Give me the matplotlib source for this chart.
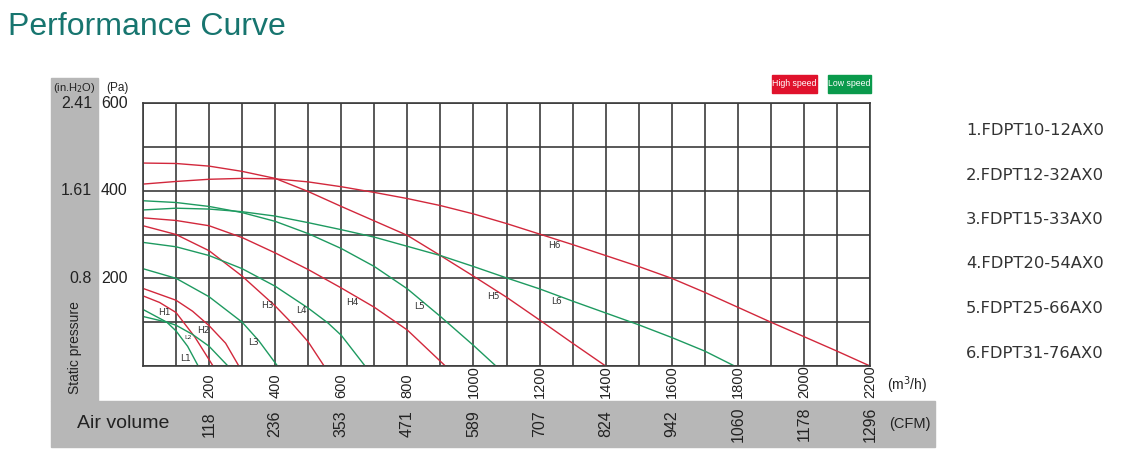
import matplotlib.pyplot as plt
from matplotlib.patches import Rectangle

W, H = 1133, 462

# axis labels
flow_ticks = [200, 400, 600, 800, 1000, 1200, 1400, 1600, 1800, 2000, 2200]
cfm_labels = ["118", "236", "353", "471", "589", "707", "824", "942", "1060", "1178", "1296"]
pa_ticks = [200, 400, 600]
inh2o_labels = ["0.8", "1.61", "2.41"]
models = ["1.FDPT10-12AX0", "2.FDPT12-32AX0", "3.FDPT15-33AX0",
          "4.FDPT20-54AX0", "5.FDPT25-66AX0", "6.FDPT31-76AX0"]

# curves, air volume (m3/h) vs static pressure (Pa)
h1_flow = [0, 50, 100, 157, 212]
h1_pa = [160, 145, 122, 66, 0]
l1_flow = [0, 72, 100, 135, 167]
l1_pa = [129, 100, 80, 45, 0]
h2_flow = [0, 100, 150, 200, 250, 290]
h2_pa = [177, 150, 125, 92, 52, 0]
l2_flow = [0, 72, 100, 150, 200, 257]
l2_pa = [113, 100, 93, 72, 45, 0]
h3_flow = [0, 100, 200, 300, 400, 450, 500, 548]
h3_pa = [320, 300, 263, 205, 137, 98, 55, 0]
l3_flow = [0, 100, 200, 300, 350, 407]
l3_pa = [222, 200, 158, 100, 58, 0]
h4_flow = [0, 100, 200, 300, 400, 500, 600, 700, 800, 915]
h4_pa = [338, 332, 320, 293, 258, 220, 178, 134, 82, 0]
l4_flow = [0, 100, 200, 300, 400, 500, 560, 600, 672]
l4_pa = [282, 272, 252, 222, 182, 132, 98, 70, 0]
h5_flow = [0, 100, 200, 300, 400, 500, 600, 700, 800, 900, 1000, 1100, 1200, 1300, 1400]
h5_pa = [463, 462, 456, 444, 428, 398, 364, 331, 298, 252, 205, 157, 105, 52, 0]
l5_flow = [0, 100, 200, 300, 400, 500, 600, 700, 800, 900, 1000, 1068]
l5_pa = [377, 373, 364, 350, 330, 302, 268, 227, 176, 113, 47, 0]
h6_flow = [0, 100, 200, 300, 400, 500, 600, 700, 800, 900, 1000, 1100, 1200, 1300, 1400,
           1500, 1600, 1700, 1800, 1900, 2000, 2100, 2200]
h6_pa = [415, 421, 426, 428, 427, 420, 409, 396, 382, 366, 347, 325, 301, 277, 252,
         227, 200, 168, 134, 100, 67, 34, 0]
l6_flow = [0, 100, 200, 300, 400, 500, 600, 700, 800, 900, 1000, 1100, 1200, 1300, 1400,
           1500, 1600, 1700, 1790]
l6_pa = [356, 360, 358, 352, 342, 327, 311, 294, 273, 252, 227, 201, 176, 148, 121,
         94, 65, 34, 0]

RED = "#d2283c"
GREEN = "#1e9a60"
GRID = "#3c3c3c"
TXT = "#222222"

fig = plt.figure(figsize=(W / 100, H / 100), dpi=100)

def fx(x):
    return x / W

def fy(y):
    return 1 - y / H

# grey panels
fig.patches.append(Rectangle((fx(51), fy(447)), 884 / W, 46 / H, transform=fig.transFigure,
                             color="#b7b7b7", zorder=-1))
fig.patches.append(Rectangle((fx(51), fy(401)), 47 / W, 323 / H, transform=fig.transFigure,
                             color="#b7b7b7", zorder=-1))

ax = fig.add_axes([fx(143), fy(366), 727 / W, 263 / H])
ax.set_xlim(0, 2200)
ax.set_ylim(0, 600)
ax.set_xticks(range(0, 2201, 100))
ax.set_yticks(range(0, 601, 100))
ax.grid(True, color=GRID, lw=1.2)
ax.set_axisbelow(True)
ax.tick_params(length=0, labelbottom=False, labelleft=False)
for s in ax.spines.values():
    s.set_color(GRID)
    s.set_linewidth(1.2)

for fl, pa in [(h1_flow, h1_pa), (h2_flow, h2_pa), (h3_flow, h3_pa),
               (h4_flow, h4_pa), (h5_flow, h5_pa), (h6_flow, h6_pa)]:
    ax.plot(fl, pa, color=RED, lw=1.0)
for fl, pa in [(l1_flow, l1_pa), (l2_flow, l2_pa), (l3_flow, l3_pa),
               (l4_flow, l4_pa), (l5_flow, l5_pa), (l6_flow, l6_pa)]:
    ax.plot(fl, pa, color=GREEN, lw=1.0)

# curve tags
tags = {"H1": (64, 121), "H2": (182, 80), "L1": (130, 18), "H3": (375, 137),
        "L3": (333, 53), "L4": (478, 126), "H4": (632, 146), "L5": (838, 135),
        "H5": (1059, 158), "L6": (1250, 148), "H6": (1244, 276)}
for t, (x, y) in tags.items():
    ax.text(x, y, t, fontsize=6.5, color="#333333", ha="center", va="center")
ax.text(136, 66, "L2", fontsize=4.5, color="#333333", ha="center", va="center")

# tick labels
xt = ax.get_xaxis_transform()
yt = ax.get_yaxis_transform()
for f, c in zip(flow_ticks, cfm_labels):
    ax.text(f, -0.122, str(f), transform=xt, rotation=90, ha="center", va="bottom",
            fontsize=10.5, family="Liberation Sans", color=TXT)
    ax.text(f, -0.22, c, transform=xt, rotation=90, ha="center", va="center",
            fontsize=11.5, family="Liberation Sans", color=TXT)
for p, w in zip(pa_ticks, inh2o_labels):
    ax.text(-0.058, p, str(p), transform=yt, ha="left", va="center",
            fontsize=11.5, family="Liberation Sans", color=TXT)
    ax.text(-0.070, p, w, transform=yt, ha="right", va="center",
            fontsize=11.5, family="Liberation Sans", color=TXT)

fig.text(fx(53), fy(88), "(in.H$_2$O)", fontsize=8, va="center", color=TXT,
         family="Liberation Sans")
fig.text(fx(106), fy(88), "(Pa)", fontsize=8.5, va="center", color=TXT,
         family="Liberation Sans")
fig.text(fx(887), fy(385), "(m$^3$/h)", fontsize=10, va="center", color=TXT,
         family="Liberation Sans")
fig.text(fx(889), fy(424), "(CFM)", fontsize=10.5, va="center", color=TXT,
         family="Liberation Sans")
fig.text(fx(75), fy(348), "Static pressure", rotation=90, ha="center", va="center",
         fontsize=10, color=TXT, family="Liberation Sans")
fig.text(fx(77), fy(424), "Air volume", ha="left", va="center", fontsize=14,
         color=TXT, family="Liberation Sans")

# title
fig.text(fx(8), fy(27), "Performance Curve", ha="left", va="center", fontsize=23,
         color="#17756f", family="Liberation Sans")

# speed badges
fig.patches.append(Rectangle((fx(772), fy(93)), 45 / W, 18 / H, transform=fig.transFigure,
                             color="#e0122c"))
fig.patches.append(Rectangle((fx(828), fy(93)), 43 / W, 18 / H, transform=fig.transFigure,
                             color="#0a9a4c"))
fig.text(fx(794.5), fy(84), "High speed", ha="center", va="center", fontsize=6.3,
         color="white", family="Liberation Sans")
fig.text(fx(849.5), fy(84), "Low speed", ha="center", va="center", fontsize=6.3,
         color="white", family="Liberation Sans")

# model list
for i, m in enumerate(models):
    fig.text(fx(966), fy(130.5 + 44.5 * i), m, ha="left", va="center", fontsize=11.8,
             color="#333333")

fig.savefig("out.png", dpi=100, facecolor="white")
